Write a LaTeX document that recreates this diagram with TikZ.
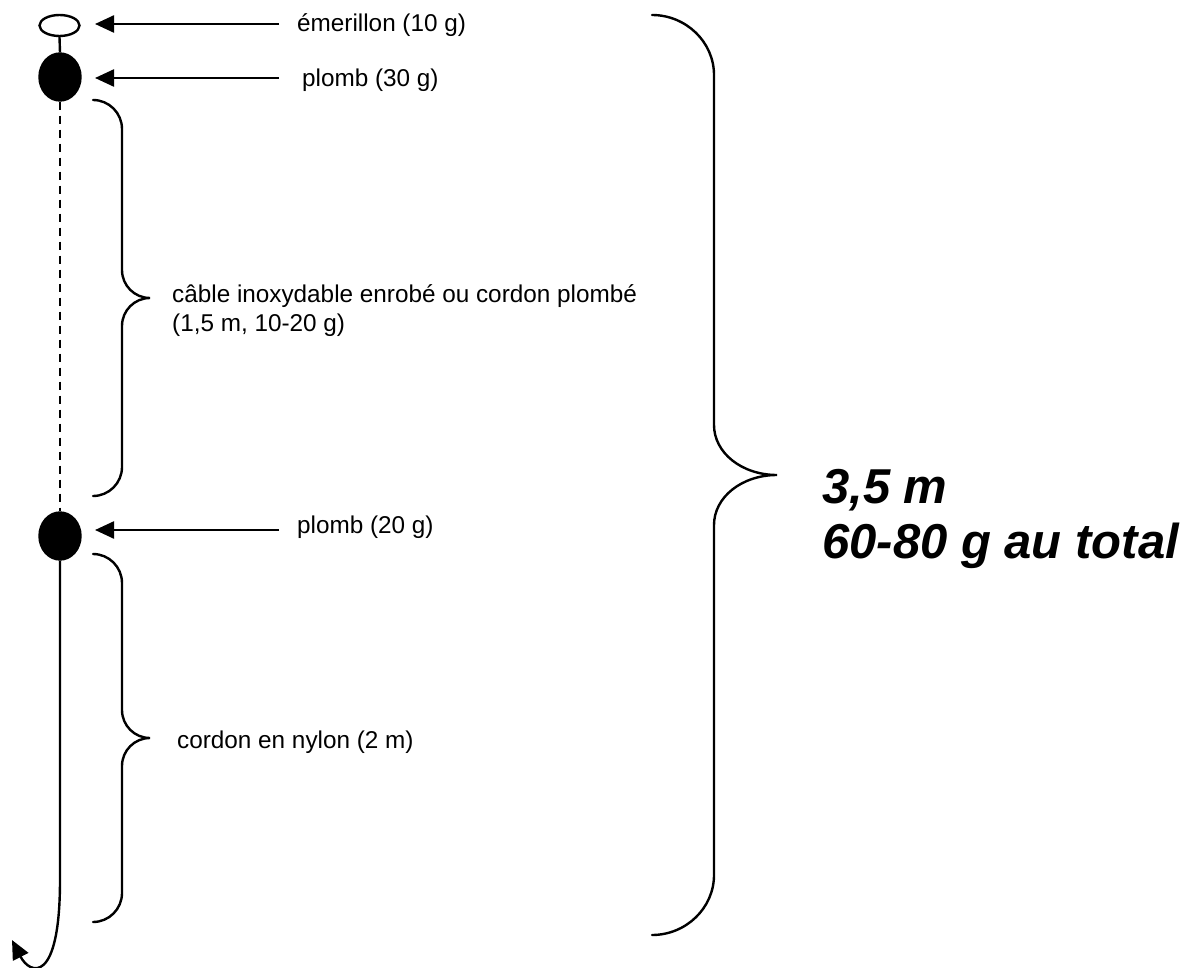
\documentclass[tikz,border=0pt]{standalone}
\usepackage{fontspec}
\setmainfont{Liberation Sans}
\usetikzlibrary{arrows.meta,shapes.geometric}
\begin{document}
\begin{tikzpicture}[x=1pt,y=-1pt,
  ln/.style={line width=2.4pt,black},
  tip/.style={-{Triangle[length=19pt,width=17pt]}},
  arr/.style={ln,tip},
  brace/.style={ln,line cap=round},
  lbl/.style={inner sep=0pt,anchor=base west,font=\fontsize{24.3}{29}\selectfont},
  big/.style={inner sep=0pt,anchor=base west,align=left,font=\fontsize{49}{55}\selectfont\bfseries\itshape},
  sinker/.style={ellipse,draw,ln,fill=black,minimum width=41pt,minimum height=47pt,inner sep=0pt}
]
\useasboundingbox (0,0) rectangle (1190,968);

% swivel and sinkers
\node[ellipse,draw,ln,fill=white,minimum width=40pt,minimum height=21pt,inner sep=0pt] (sw) at (59.5,25.5) {};
\node[sinker] (p1) at (60,77) {};
\node[sinker] (p2) at (60,536) {};

% lines
\draw[ln] (sw.south) -- (p1.north);
\draw[ln,dash pattern=on 8pt off 6pt] (p1.south) -- (p2.north);
\coordinate (bend) at (60,880);
\coordinate (hook) at (12,940);
\draw[ln,tip] (p2.south) -- (bend) .. controls (60,985) and (30,975) .. (hook);

% labels
\node[lbl] (t1) at (297,32) {émerillon (10 g)};
\node[lbl] (t2) at (302,87) {plomb (30 g)};
\node[lbl] (t3) at (297,533) {plomb (20 g)};
\node[lbl,align=left] (t4) at (172,331) {câble inoxydable enrobé ou cordon plombé\\(1,5 m, 10-20 g)};
\node[lbl] (t5) at (177,748) {cordon en nylon (2 m)};
\node[big] (tot) at (822,558) {3,5 m\\60-80 g au total};

% arrows
\coordinate (a1s) at (279,24);  \coordinate (a1e) at (95,24);
\coordinate (a2s) at (279,78);  \coordinate (a2e) at (95,78);
\coordinate (a3s) at (279,530); \coordinate (a3e) at (95,530);
\draw[arr] (a1s) -- (a1e);
\draw[arr] (a2s) -- (a2e);
\draw[arr] (a3s) -- (a3e);

% braces
\draw[brace] (93,100) .. controls (109,100) and (122,113) .. (122,129) -- (122,270)
  .. controls (122,285.5) and (134.5,298) .. (150,298)
  .. controls (134.5,298) and (122,310.5) .. (122,326) -- (122,467)
  .. controls (122,483) and (109,496) .. (93,496);
\draw[brace] (93,554) .. controls (109,554) and (122,567) .. (122,583) -- (122,710)
  .. controls (122,725.5) and (134.5,738) .. (150,738)
  .. controls (134.5,738) and (122,750.5) .. (122,766) -- (122,893)
  .. controls (122,909) and (109,922) .. (93,922);
\draw[brace] (652,15) .. controls (686,15) and (714,42) .. (714,75) -- (714,425)
  .. controls (714,453) and (742,475) .. (777,475)
  .. controls (742,475) and (714,497) .. (714,525) -- (714,875)
  .. controls (714,908) and (686,935) .. (652,935);
\end{tikzpicture}
\end{document}
